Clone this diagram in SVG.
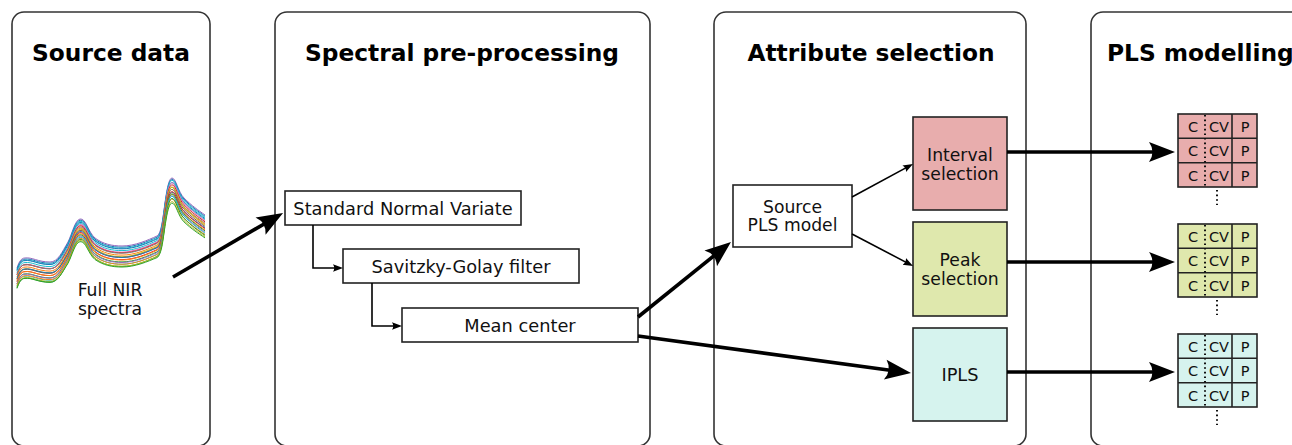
<svg xmlns="http://www.w3.org/2000/svg" width="1292" height="445" viewBox="0 0 1292 445">
<style>
.panel{fill:#fff;stroke:#333;stroke-width:1.6}
.title{font-family:"DejaVu Sans",sans-serif;font-weight:bold;font-size:23.3px;fill:#000}
.lbl{font-family:"DejaVu Sans",sans-serif;font-size:17.8px;fill:#111;text-anchor:middle}
.lbl2{font-family:"DejaVu Sans",sans-serif;font-size:17.2px;fill:#111;text-anchor:middle}
.box{stroke:#222;stroke-width:1.6}
.g{font-family:"DejaVu Sans",sans-serif;font-size:14.5px;fill:#111;text-anchor:middle}
.thick{fill:none;stroke:#000;stroke-width:3.6;marker-end:url(#big)}
.thin{fill:none;stroke:#000;stroke-width:1.6;marker-end:url(#small)}
.sp{fill:none;stroke-width:1}
.cell{stroke:#222;stroke-width:1.6}
.dot{fill:none;stroke:#111;stroke-width:2;stroke-dasharray:1.6 3}
</style>
<defs>
<marker id="big" markerUnits="userSpaceOnUse" markerWidth="30" markerHeight="24" viewBox="0 -12 28 24" refX="16" refY="0" orient="auto">
<path d="M26,0 L0,-10 Q7,0 0,10 Z" fill="#000"/>
</marker>
<marker id="small" markerUnits="userSpaceOnUse" markerWidth="12" markerHeight="10" viewBox="0 -5 12 10" refX="6" refY="0" orient="auto">
<path d="M10,0 L0,-3.8 Q2.5,0 0,3.8 Z" fill="#000"/>
</marker>
<path id="spec" d="M17,268 C19,262 21,258 25,258 C32,257 38,262 50,262 C58,262 62,252 68,242 C72,234 75,220 80,219 C86,218 88,232 95,238 C103,244 112,246 122,246 C135,246 148,240 157,236 C162,233 163,215 166,196 C168,183 170,178 172,178 C176,178 178,192 184,198 C192,206 198,210 205,215"/>
</defs>

<g id="panel-source">
<rect class="panel" x="12" y="12" width="198" height="434" rx="12"/>
<text class="title" x="111" y="61" text-anchor="middle">Source data</text>
<g id="spectra">
<use href="#spec" class="sp" stroke="#9467bd" transform="translate(0,0)"/>
<use href="#spec" class="sp" stroke="#1f77b4" transform="translate(0,1.2)"/>
<use href="#spec" class="sp" stroke="#17becf" transform="translate(0,2.3)"/>
<use href="#spec" class="sp" stroke="#1f77b4" transform="translate(0,3.4) matrix(1,0,0,0.98,0,4.4)"/>
<use href="#spec" class="sp" stroke="#17becf" transform="translate(0,4.6)"/>
<use href="#spec" class="sp" stroke="#e377c2" transform="translate(0,5.7) matrix(1,0,0,1.02,0,-4.4)"/>
<use href="#spec" class="sp" stroke="#d62728" transform="translate(0,6.8)"/>
<use href="#spec" class="sp" stroke="#7f7f7f" transform="translate(0,8) matrix(1,0,0,0.97,0,6.6)"/>
<use href="#spec" class="sp" stroke="#ff7f0e" transform="translate(0,9.1)"/>
<use href="#spec" class="sp" stroke="#bcbd22" transform="translate(0,10.2) matrix(1,0,0,1.02,0,-4.4)"/>
<use href="#spec" class="sp" stroke="#8c564b" transform="translate(0,11.4)"/>
<use href="#spec" class="sp" stroke="#1f77b4" transform="translate(0,12.5) matrix(1,0,0,0.96,0,8.8)"/>
<use href="#spec" class="sp" stroke="#d62728" transform="translate(0,13.6)"/>
<use href="#spec" class="sp" stroke="#ff7f0e" transform="translate(0,14.8) matrix(1,0,0,0.97,0,6.6)"/>
<use href="#spec" class="sp" stroke="#2ca02c" transform="translate(0,15.9)"/>
<use href="#spec" class="sp" stroke="#9467bd" transform="translate(0,17) matrix(1,0,0,0.98,0,4.4)"/>
<use href="#spec" class="sp" stroke="#17becf" transform="translate(0,18.2)"/>
<use href="#spec" class="sp" stroke="#ff7f0e" transform="translate(0,19.3) matrix(1,0,0,0.96,0,8.8)"/>
<use href="#spec" class="sp" stroke="#2ca02c" transform="translate(0,20.4)"/>
<use href="#spec" class="sp" stroke="#bcbd22" transform="translate(0,21.5) matrix(1,0,0,0.95,0,11)"/>
<use href="#spec" class="sp" stroke="#2ca02c" transform="translate(0,22.6) matrix(1,0,0,0.94,0,13.2)"/>
</g>
<text class="lbl2" x="110" y="296">Full NIR</text>
<text class="lbl2" x="110" y="314.5">spectra</text>
</g>

<g id="panel-preproc">
<rect class="panel" x="275" y="12" width="375" height="434" rx="12"/>
<text class="title" x="462" y="61" text-anchor="middle">Spectral pre-processing</text>
</g>
<g id="panel-attr">
<rect class="panel" x="714" y="12" width="312" height="434" rx="12"/>
<text class="title" x="871" y="61" text-anchor="middle">Attribute selection</text>
</g>
<g id="panel-pls">
<rect class="panel" x="1091" y="12" width="230" height="434" rx="12"/>
<text class="title" x="1107" y="61">PLS modelling</text>
</g>

<g id="node-snv">
<rect class="box" x="285" y="191" width="236" height="34" fill="#fff"/>
<text class="lbl" x="403" y="215">Standard Normal Variate</text>
</g>
<g id="node-sg">
<rect class="box" x="343" y="249" width="236" height="34" fill="#fff"/>
<text class="lbl" x="461" y="273">Savitzky-Golay filter</text>
</g>
<g id="node-mc">
<rect class="box" x="402" y="308" width="236" height="34" fill="#fff"/>
<text class="lbl" x="520" y="332">Mean center</text>
</g>
<g id="node-source-pls">
<rect class="box" x="733" y="185" width="119" height="62" fill="#fff"/>
<text class="lbl2" x="792.5" y="212.5">Source</text>
<text class="lbl2" x="792.5" y="231">PLS model</text>
</g>
<g id="node-interval">
<rect class="box" x="913" y="117" width="94" height="93" fill="#e8adad"/>
<text class="lbl2" x="960" y="161">Interval</text>
<text class="lbl2" x="960" y="179.5">selection</text>
</g>
<g id="node-peak">
<rect class="box" x="913" y="222" width="94" height="94" fill="#dfe8ad"/>
<text class="lbl2" x="960" y="266">Peak</text>
<text class="lbl2" x="960" y="284.5">selection</text>
</g>
<g id="node-ipls">
<rect class="box" x="913" y="328" width="94" height="93" fill="#d6f3ee"/>
<text class="lbl" x="960" y="381">IPLS</text>
</g>

<g id="grid-interval">
<rect class="cell" x="1178" y="114" width="79" height="73" fill="#e8adad"/>
<line class="cell" x1="1178" y1="138.3" x2="1257" y2="138.3"/>
<line class="cell" x1="1178" y1="162.7" x2="1257" y2="162.7"/>
<line class="cell" x1="1232" y1="114" x2="1232" y2="187"/>
<line class="dot" x1="1205" y1="115" x2="1205" y2="187"/>
<line class="dot" x1="1217" y1="190" x2="1217" y2="205"/>
<text class="g" x="1193" y="131.5">C</text><text class="g" x="1219" y="131.5">CV</text><text class="g" x="1245" y="131.5">P</text>
<text class="g" x="1193" y="156">C</text><text class="g" x="1219" y="156">CV</text><text class="g" x="1245" y="156">P</text>
<text class="g" x="1193" y="180.5">C</text><text class="g" x="1219" y="180.5">CV</text><text class="g" x="1245" y="180.5">P</text>
</g>
<g id="grid-peak">
<rect class="cell" x="1178" y="224" width="79" height="73" fill="#dfe8ad"/>
<line class="cell" x1="1178" y1="248.3" x2="1257" y2="248.3"/>
<line class="cell" x1="1178" y1="272.7" x2="1257" y2="272.7"/>
<line class="cell" x1="1232" y1="224" x2="1232" y2="297"/>
<line class="dot" x1="1205" y1="225" x2="1205" y2="297"/>
<line class="dot" x1="1217" y1="300" x2="1217" y2="315"/>
<text class="g" x="1193" y="241.5">C</text><text class="g" x="1219" y="241.5">CV</text><text class="g" x="1245" y="241.5">P</text>
<text class="g" x="1193" y="266">C</text><text class="g" x="1219" y="266">CV</text><text class="g" x="1245" y="266">P</text>
<text class="g" x="1193" y="290.5">C</text><text class="g" x="1219" y="290.5">CV</text><text class="g" x="1245" y="290.5">P</text>
</g>
<g id="grid-ipls">
<rect class="cell" x="1178" y="334" width="79" height="73" fill="#d6f3ee"/>
<line class="cell" x1="1178" y1="358.3" x2="1257" y2="358.3"/>
<line class="cell" x1="1178" y1="382.7" x2="1257" y2="382.7"/>
<line class="cell" x1="1232" y1="334" x2="1232" y2="407"/>
<line class="dot" x1="1205" y1="335" x2="1205" y2="407"/>
<line class="dot" x1="1217" y1="410" x2="1217" y2="425"/>
<text class="g" x="1193" y="351.5">C</text><text class="g" x="1219" y="351.5">CV</text><text class="g" x="1245" y="351.5">P</text>
<text class="g" x="1193" y="376">C</text><text class="g" x="1219" y="376">CV</text><text class="g" x="1245" y="376">P</text>
<text class="g" x="1193" y="400.5">C</text><text class="g" x="1219" y="400.5">CV</text><text class="g" x="1245" y="400.5">P</text>
</g>

<g id="connectors">
<line class="thick" x1="173" y1="277" x2="274.4" y2="218"/>
<polyline class="thin" points="313,225 313,268 339,268"/>
<polyline class="thin" points="372,283 372,326 398,326"/>
<line class="thick" x1="638" y1="317" x2="723.2" y2="248.3"/>
<line class="thick" x1="638" y1="336" x2="901.1" y2="371.7"/>
<line class="thin" x1="852" y1="197" x2="909.5" y2="165.9"/>
<line class="thin" x1="852" y1="234" x2="909.5" y2="264.1"/>
<line class="thick" x1="1007" y1="152" x2="1165" y2="152"/>
<line class="thick" x1="1007" y1="262" x2="1165" y2="262"/>
<line class="thick" x1="1007" y1="372" x2="1165" y2="372"/>
</g>
</svg>
